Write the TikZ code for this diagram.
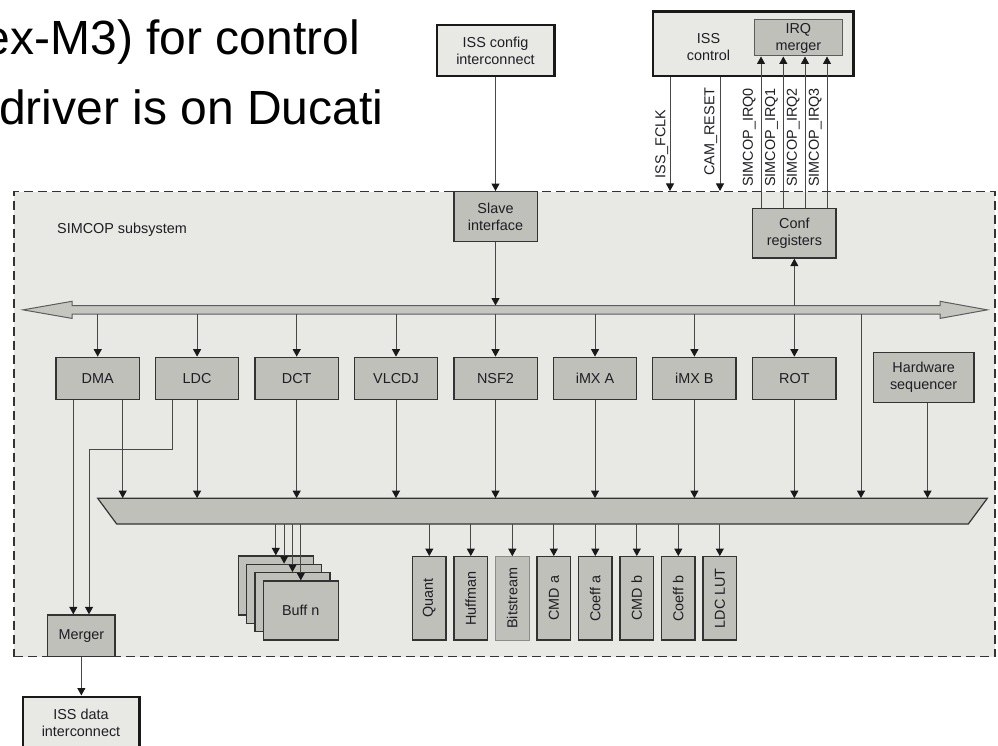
\documentclass[tikz,border=0pt]{standalone}
\usepackage{fontspec}
\usepackage{graphicx}
\setmainfont{Liberation Sans}
\usetikzlibrary{arrows.meta}
\definecolor{subfill}{HTML}{E8E8E4}
\definecolor{blkfill}{HTML}{C0C0BA}
\definecolor{busfill}{HTML}{C6C6C1}
\definecolor{edge}{HTML}{333333}
\definecolor{wire}{HTML}{484848}
\definecolor{txt}{HTML}{1E1E24}

\begin{document}
\begin{tikzpicture}[x=1pt,y=-1pt,
  every node/.style={font=\fontsize{14.4}{17}\selectfont, text=txt},
  extbox/.style={draw=black!90, line width=2.4pt, fill=subfill, align=center, inner sep=0pt},
  blk/.style={draw=edge, line width=1.3pt, fill=blkfill, align=center, inner sep=0pt,
              minimum width=83.3pt, minimum height=42pt},
  membox/.style={draw=edge, line width=1.3pt, fill=blkfill, inner sep=0pt,
                 minimum width=33.5pt, minimum height=83.3pt},
  bufbox/.style={draw=edge, line width=1.3pt, fill=blkfill, inner sep=0pt,
                 minimum width=75pt, minimum height=59pt},
  wirearrow/.style={draw=wire, line width=1pt, -{Triangle[length=7.5pt,width=8pt,color=black!90]}},
  siglabel/.style={inner sep=0pt},
  bigtext/.style={inner sep=0pt, font=\fontsize{48}{58}\selectfont, text=black},
]
\clip (0,0) rectangle (998,746);

% slide text in the upper left corner
\node[bigtext, anchor=base east] (line1) at (360,55) {ex-M3) for control};
\node[bigtext, anchor=base west] (line2) at (-1,125) {driver is on Ducati};

% SIMCOP subsystem frame
\node[draw=edge, line width=1.4pt, dash pattern=on 9pt off 5pt, fill=subfill,
      minimum width=981pt, minimum height=465pt, inner sep=0pt] (sub) at (504.5,424.2) {};
\node[anchor=west, inner sep=0pt] (sublabel) at (57,229.3) {SIMCOP subsystem};

% external blocks
\node[extbox, minimum width=117.6pt, minimum height=51pt] (cfgic) at (495.5,50.5) {ISS config\\interconnect};
\node[extbox, minimum width=200.6pt, minimum height=64.3pt] (issctl) at (753,43.85) {};
\node[align=center, inner sep=0pt] (issctltxt) at (708.5,46.7) {ISS\\control};
\node[draw=edge!80, line width=1pt, fill=blkfill, align=center, inner sep=0pt,
      minimum width=88.7pt, minimum height=36pt] (irqm) at (798.35,38) {IRQ\\merger};
\node[extbox, minimum width=116.6pt, minimum height=53pt] (issdata) at (81,723.2) {ISS data\\interconnect};

% configuration side
\node[blk, minimum height=50pt] (slave) at (495.5,216.7) {Slave\\interface};
\node[blk, minimum height=49.7pt] (conf) at (794.35,233.15) {Conf\\registers};

% upper interconnect (double headed bus)
\draw[draw=edge!80, line width=1pt, fill=busfill]
  (23,309.85) -- (72,301.3) -- (72,305.7) -- (940,305.7) -- (940,301.3) -- (987.3,309.85)
  -- (940,318.4) -- (940,314) -- (72,314) -- (72,318.4) -- cycle;
\node[inner sep=0pt, minimum width=868pt, minimum height=8.3pt] (bus) at (506,309.85) {};

% processing modules
\node[blk] (dma)   at (97.7,378.3)  {DMA};
\node[blk] (ldc)   at (197.1,378.3) {LDC};
\node[blk] (dct)   at (296.7,378.3) {DCT};
\node[blk] (vlcdj) at (396,378.3)   {VLCDJ};
\node[blk] (nsf)   at (495.5,378.3) {NSF2};
\node[blk] (imxa)  at (595,378.3)   {iMX A};
\node[blk] (imxb)  at (694.4,378.3) {iMX B};
\node[blk] (rot)   at (794.35,378.3){ROT};
\node[blk, minimum width=100.7pt, minimum height=50.4pt] (hwseq) at (923.65,377.5) {Hardware\\sequencer};

% lower interconnect
\draw[draw=edge, line width=1.2pt, fill=blkfill]
  (97.7,498.3) -- (987.3,498.3) -- (968.3,524) -- (116.7,524) -- cycle;
\node[inner sep=0pt, minimum width=851.6pt, minimum height=25.7pt] (lbus) at (542.5,511.15) {};

% merger
\node[blk, minimum width=67.3pt, minimum height=41.7pt] (merger) at (81.35,635.85) {Merger};

% buffer stack
\node[bufbox] (buf1) at (275.8,585.5) {};
\node[bufbox] (buf2) at (284.1,593.8) {};
\node[bufbox] (buf3) at (292.5,602.2) {};
\node[bufbox] (buf4) at (300.8,610.5) {Buff n};

% memories
\node[membox] (mq)  at (429.3,598.35) {\rotatebox{90}{Quant}};
\node[membox] (mh)  at (470.8,598.35) {\rotatebox{90}{Huffman}};
\node[membox, draw=black!45, line width=1pt] (mbs) at (512.3,598.35) {\rotatebox{90}{Bitstream}};
\node[membox] (mca) at (553.8,598.35) {\rotatebox{90}{CMD a}};
\node[membox] (mka) at (595.3,598.35) {\rotatebox{90}{Coeff a}};
\node[membox] (mcb) at (636.8,598.35) {\rotatebox{90}{CMD b}};
\node[membox] (mkb) at (678.3,598.35) {\rotatebox{90}{Coeff b}};
\node[membox] (mlut) at (719.8,598.35) {\rotatebox{90}{LDC LUT}};

% wire positions
\coordinate (fclk) at (670,0);
\coordinate (camr) at (720,0);
\coordinate (irq0) at (761,0);
\coordinate (irq1) at (783.3,0);
\coordinate (irq2) at (805,0);
\coordinate (irq3) at (827,0);
\coordinate (dmaA) at (73.3,0);
\coordinate (dmaB) at (122.7,0);
\coordinate (ldcA) at (172.3,0);
\coordinate (mrgB) at (89,0);
\coordinate (tap)  at (861,0);
\coordinate (hwx)  at (927.5,0);

% signals between ISS control and the subsystem
\draw[wirearrow] (issctl.south -| fclk) -- (sub.north -| fclk);
\draw[wirearrow] (issctl.south -| camr) -- (sub.north -| camr);
\foreach \c in {irq0,irq1,irq2,irq3}
  \draw[wirearrow] (conf.north -| \c) -- (irqm.south -| \c);
\node[siglabel] (lfclk) at (661.7,144)   {\rotatebox{90}{ISS\_FCLK}};
\node[siglabel] (lcamr) at (710.7,131.5) {\rotatebox{90}{CAM\_RESET}};
\node[siglabel] (lirq0) at (749.3,137.5) {\rotatebox{90}{SIMCOP\_IRQ0}};
\node[siglabel] (lirq1) at (771.6,137.5) {\rotatebox{90}{SIMCOP\_IRQ1}};
\node[siglabel] (lirq2) at (793.3,137.5) {\rotatebox{90}{SIMCOP\_IRQ2}};
\node[siglabel] (lirq3) at (815.3,137.5) {\rotatebox{90}{SIMCOP\_IRQ3}};

% configuration path
\draw[wirearrow] (cfgic.south) -- (slave.north);
\draw[wirearrow] (slave.south) -- (bus.north -| slave.south);
\draw[wirearrow] (bus.north -| conf.south) -- (conf.south);

% upper bus to modules
\foreach \m in {dma,ldc,dct,vlcdj,nsf,imxa,imxb,rot}
  \draw[wirearrow] (bus.south -| \m.north) -- (\m.north);
\draw[wirearrow] (bus.south -| tap) -- (lbus.north -| tap);

% modules to lower bus
\foreach \m in {ldc,dct,vlcdj,nsf,imxa,imxb,rot}
  \draw[wirearrow] (\m.south) -- (lbus.north -| \m.south);
\draw[wirearrow] (dma.south -| dmaB) -- (lbus.north -| dmaB);
\draw[wirearrow] (hwseq.south -| hwx) -- (lbus.north -| hwx);

% paths to the merger
\draw[wirearrow] (dma.south -| dmaA) -- (merger.north -| dmaA);
\draw[wirearrow] (ldc.south -| ldcA) -- ++(0,49.7) -| (merger.north -| mrgB);
\draw[wirearrow] (merger.south) -- (issdata.north -| merger.south);

% lower bus to buffers and memories
\foreach \b in {buf1,buf2,buf3,buf4}
  \draw[wirearrow] (lbus.south -| \b.north) -- (\b.north);
\foreach \m in {mq,mh,mbs,mca,mka,mcb,mkb,mlut}
  \draw[wirearrow] (lbus.south -| \m.north) -- (\m.north);
\end{tikzpicture}
\end{document}
